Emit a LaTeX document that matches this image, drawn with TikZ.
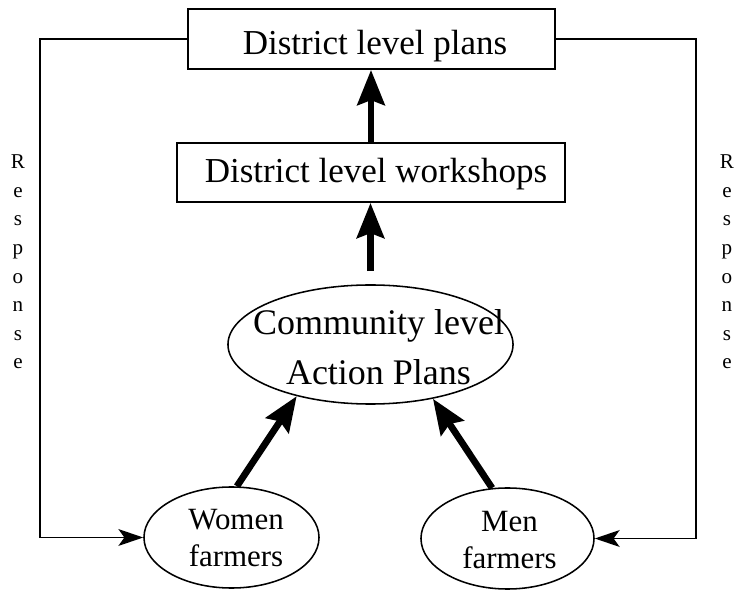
\documentclass[tikz,border=0pt]{standalone}
\usepackage{fontspec}
\setmainfont{Liberation Serif}
\usetikzlibrary{arrows.meta,shapes.geometric}
\begin{document}
\begin{tikzpicture}[x=0.025cm,y=-0.025cm,
 boxnode/.style={draw, line width=1.3pt, inner sep=0pt, text depth=0pt, font=\fontsize{24.9}{30}\selectfont},
 ellnode/.style={draw, ellipse, line width=1.1pt, inner sep=0pt},
 etext/.style={align=center, inner sep=0pt},
 bigarrow/.style={line width=4.8pt, -{Stealth[length=0.875cm,width=0.68cm,inset=0.12cm]}},
 resp/.style={line width=1.3pt, -{Stealth[length=0.62cm,width=0.42cm,inset=0.15cm]}},
 resptext/.style={align=center, inner sep=0pt, font=\fontsize{15}{20.3}\selectfont}]
\useasboundingbox (0,0) rectangle (744,596);
\node[boxnode, text height=0.78cm, minimum width=9.175cm, minimum height=1.5cm] (dp) at (371.5,39) {\hspace*{0.175cm}District level plans};
\node[boxnode, text height=0.52cm, minimum width=9.7cm, minimum height=1.475cm] (dw) at (371,172.5) {\hspace*{0.25cm}District level workshops};
\node[ellnode, minimum width=7.125cm, minimum height=2.975cm] (cap) at (370.5,344.5) {};
\node[etext, font=\fontsize{25.6}{35.6}\selectfont] (captext) at (378.5,347.5) {Community level\\Action Plans};
\node[ellnode, minimum width=4.375cm, minimum height=2.525cm] (wf) at (231.5,537.5) {};
\node[etext, font=\fontsize{22}{26.3}\selectfont] (wftext) at (236,538) {Women\\farmers};
\node[ellnode, minimum width=4.325cm, minimum height=2.525cm] (mf) at (507.5,538.5) {};
\node[etext, font=\fontsize{22}{26.3}\selectfont] (mftext) at (509.5,539.6) {Men\\farmers};
\draw[bigarrow] (dw.north) -- (dw.north |- dp.south);
\draw[bigarrow, shorten <=0.325cm] (cap.north) -- (cap.north |- dw.south);
\draw[bigarrow] (wf.84) -- (cap.215.5);
\draw[bigarrow] (mf.107) -- (cap.319.5);
\coordinate (lx) at (40,0);
\coordinate (rx) at (696,0);
\draw[resp] (dp.west) -| (lx |- wf.west) -- (wf.west);
\draw[resp] (dp.east) -| (rx |- mf.east) -- (mf.east);
\node[resptext] (rl) at (18,262) {R\\e\\s\\p\\o\\n\\s\\e};
\node[resptext] (rr) at (727,262) {R\\e\\s\\p\\o\\n\\s\\e};
\end{tikzpicture}
\end{document}
